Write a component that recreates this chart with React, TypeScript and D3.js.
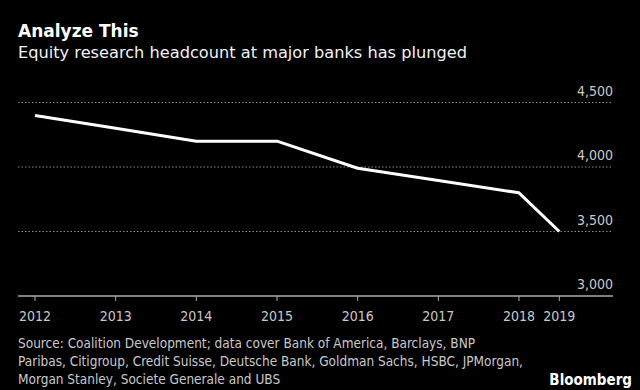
import React, { useEffect, useRef } from 'react';
import * as d3 from 'd3';

// headcount by year; last reading sits halfway between the 2018 and 2019 tick spacing
const yearPos = [2012, 2013, 2014, 2015, 2016, 2017, 2018, 2018.5];
const yearLabels = ['2012', '2013', '2014', '2015', '2016', '2017', '2018', '2019'];
const headcount = [4400, 4300, 4200, 4200, 3990, 3895, 3800, 3500];
const yTicks = [3000, 3500, 4000, 4500];
const sourceLines = [
  'Source: Coalition Development; data cover Bank of America, Barclays, BNP',
  'Paribas, Citigroup, Credit Suisse, Deutsche Bank, Goldman Sachs, HSBC, JPMorgan,',
  'Morgan Stanley, Societe Generale and UBS',
];

const W = 640;
const H = 390;
const narrow = '"DejaVu Sans Condensed", "Liberation Sans Narrow", sans-serif';

export default function App() {
  const ref = useRef<SVGSVGElement>(null);

  useEffect(() => {
    const svg = d3.select(ref.current);
    svg.selectAll('*').remove();

    svg.append('rect').attr('width', W).attr('height', H).attr('fill', '#000');

    // titles
    svg.append('text')
      .attr('x', 18).attr('y', 37)
      .attr('fill', '#fff')
      .style('font-family', '"DejaVu Sans", sans-serif')
      .style('font-weight', 'bold')
      .style('font-size', '17px')
      .text('Analyze This');

    svg.append('text')
      .attr('x', 18).attr('y', 58)
      .attr('fill', '#f2f2f2')
      .style('font-family', '"DejaVu Sans", sans-serif')
      .style('font-size', '16.2px')
      .text('Equity research headcount at major banks has plunged');

    const left = 18, right = 613;
    const x = d3.scaleLinear().domain([2012, 2018]).range([35, 519]);
    const y = d3.scaleLinear().domain([3000, 4500]).range([296, 102.5]);

    // grid lines
    svg.append('g')
      .selectAll('line')
      .data(yTicks.filter(d => d > 3000))
      .enter()
      .append('line')
      .attr('x1', left).attr('x2', right)
      .attr('y1', d => y(d)).attr('y2', d => y(d))
      .attr('stroke', '#8a8a8a')
      .attr('stroke-width', 1)
      .attr('stroke-dasharray', '1.5,2');

    // y labels
    svg.append('g')
      .selectAll('text')
      .data(yTicks)
      .enter()
      .append('text')
      .attr('x', right).attr('y', d => y(d) - 7)
      .attr('text-anchor', 'end')
      .attr('fill', '#c8c8c8')
      .style('font-family', narrow)
      .style('font-size', '14px')
      .text(d => d3.format(',')(d));

    // x axis
    svg.append('line')
      .attr('x1', left).attr('x2', right)
      .attr('y1', y(3000)).attr('y2', y(3000))
      .attr('stroke', '#aaa').attr('stroke-width', 1.5);

    const ticks = svg.append('g')
      .selectAll('g')
      .data(yearPos)
      .enter()
      .append('g')
      .attr('transform', d => 'translate(' + x(d) + ',' + y(3000) + ')');

    ticks.append('line')
      .attr('y1', 0).attr('y2', 5)
      .attr('stroke', '#aaa').attr('stroke-width', 1);

    ticks.append('text')
      .attr('y', 25)
      .attr('text-anchor', 'middle')
      .attr('fill', '#c8c8c8')
      .style('font-family', narrow)
      .style('font-size', '14px')
      .text((d, i) => yearLabels[i]);

    // the line
    const line = d3.line<number>()
      .x((d, i) => x(yearPos[i]))
      .y(d => y(d));

    svg.append('path')
      .datum(headcount)
      .attr('d', line)
      .attr('fill', 'none')
      .attr('stroke', '#fff')
      .attr('stroke-width', 3)
      .attr('stroke-linejoin', 'round');

    // source
    svg.append('g')
      .selectAll('text')
      .data(sourceLines)
      .enter()
      .append('text')
      .attr('x', 18)
      .attr('y', (d, i) => 348 + i * 18)
      .attr('fill', '#c8c8c8')
      .style('font-family', narrow)
      .style('font-size', '13.5px')
      .text(d => d);

    svg.append('text')
      .attr('x', 632).attr('y', 385)
      .attr('text-anchor', 'end')
      .attr('fill', '#fff')
      .style('font-family', narrow)
      .style('font-weight', 'bold')
      .style('font-size', '15px')
      .text('Bloomberg');
  }, []);

  return (
    <div style={{ position: 'fixed', left: 0, top: 0 }}>
      <svg ref={ref} width={W} height={H} style={{ display: 'block' }} />
    </div>
  );
}
